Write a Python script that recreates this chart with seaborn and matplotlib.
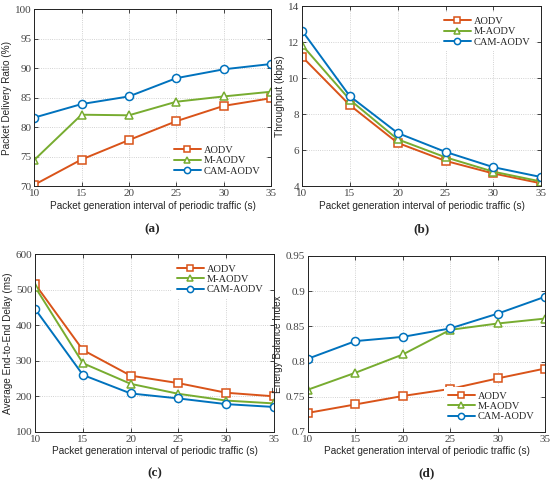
import numpy as np
import pandas as pd
import seaborn as sns
from matplotlib import pyplot as plt

# Data
intervals = [10, 15, 20, 25, 30, 35]
protocols = ["AODV", "M-AODV", "CAM-AODV"]

pdr_aodv = [70.2, 74.5, 77.8, 81.0, 83.6, 84.9]
pdr_maodv = [74.4, 82.1, 82.0, 84.3, 85.2, 86.0]
pdr_camaodv = [81.6, 83.9, 85.2, 88.3, 89.8, 90.7]

thr_aodv = [11.2, 8.5, 6.4, 5.4, 4.7, 4.15]
thr_maodv = [11.85, 8.8, 6.6, 5.6, 4.8, 4.25]
thr_camaodv = [12.65, 9.0, 6.95, 5.9, 5.05, 4.5]

delay_aodv = [515, 330, 258, 237, 210, 200]
delay_maodv = [507, 293, 235, 207, 188, 180]
delay_camaodv = [445, 260, 208, 194, 178, 170]

ebi_aodv = [0.727, 0.739, 0.751, 0.761, 0.776, 0.790]
ebi_maodv = [0.760, 0.784, 0.810, 0.845, 0.854, 0.861]
ebi_camaodv = [0.804, 0.829, 0.835, 0.847, 0.868, 0.892]

sns.set_theme(style="ticks")
plt.rcParams['font.family'] = ['Liberation Sans', 'DejaVu Sans']

palette = {"AODV": "#D95319", "M-AODV": "#77AC30", "CAM-AODV": "#0072BD"}
markers = {"AODV": "s", "M-AODV": "^", "CAM-AODV": "o"}


def make_df(a, m, c):
    rows = []
    for name, vals in zip(protocols, [a, m, c]):
        for x, v in zip(intervals, vals):
            rows.append((x, name, v))
    return pd.DataFrame(rows, columns=["interval", "protocol", "value"])


panels = [
    (make_df(pdr_aodv, pdr_maodv, pdr_camaodv), "Packet Delivery Ratio (%)", (70, 100), np.arange(70, 101, 5), "lower right", "(a)", None),
    (make_df(thr_aodv, thr_maodv, thr_camaodv), "Throughput (kbps)", (4, 14), np.arange(4, 15, 2), "upper right", "(b)", None),
    (make_df(delay_aodv, delay_maodv, delay_camaodv), "Average End-to-End Delay (ms)", (100, 600), np.arange(100, 601, 100), "upper right", "(c)", None),
    (make_df(ebi_aodv, ebi_maodv, ebi_camaodv), "Energy Balance Index", (0.7, 0.95), [0.7, 0.75, 0.8, 0.85, 0.9, 0.95], "lower right", "(d)", ["0.7", "0.75", "0.8", "0.85", "0.9", "0.95"]),
]

# [left, bottom, width, height] in figure fractions
positions = [
    [0.062, 0.614, 0.431, 0.367],
    [0.549, 0.614, 0.435, 0.373],
    [0.064, 0.104, 0.434, 0.369],
    [0.560, 0.104, 0.431, 0.365],
]
tag_y = [0.525, 0.525, 0.019, 0.019]

fig = plt.figure(figsize=(5.5, 4.82), dpi=100)

for (df, ylabel, ylim, yticks, loc, tag, ytl), pos, ty in zip(panels, positions, tag_y):
    ax = fig.add_axes(pos)
    for name in protocols:
        sub = df[df["protocol"] == name]
        sns.lineplot(data=sub, x="interval", y="value", ax=ax, color=palette[name],
                     marker=markers[name], markersize=5.8, markerfacecolor="white",
                     markeredgecolor=palette[name], markeredgewidth=1.1,
                     linewidth=1.4, label=name)
    ax.set_xlim(10, 35)
    ax.set_ylim(*ylim)
    ax.set_xticks(intervals)
    ax.set_yticks(yticks)
    if ytl is not None:
        ax.set_yticklabels(ytl)
    for lab in ax.get_xticklabels() + ax.get_yticklabels():
        lab.set_fontfamily("Liberation Serif")
        lab.set_fontsize(8)
        lab.set_color("#444444")
    ax.tick_params(direction="in", length=3, width=0.6, top=True, right=True, pad=2)
    ax.grid(True, linestyle=":", linewidth=0.6, color="#c4c4c4")
    for s in ax.spines.values():
        s.set_linewidth(0.7)
        s.set_color("#222222")
    ax.set_xlabel("Packet generation interval of periodic traffic (s)", fontsize=7.2, labelpad=2)
    ax.set_ylabel(ylabel, fontsize=7.2, labelpad=2)
    leg = ax.legend(loc=loc, prop={"family": "Liberation Serif", "size": 7.5},
                    frameon=True, fancybox=False, edgecolor="none", framealpha=1,
                    borderpad=0.4, handlelength=2.6, labelspacing=0.1,
                    borderaxespad=0.6, handletextpad=0.3)
    for h in leg.legend_handles:
        h.set_markersize(4.5)
    x_center = pos[0] + pos[2] / 2
    fig.text(x_center, ty, tag, ha="center", va="center",
             fontsize=9.5, fontweight="bold", family="Liberation Serif")

fig.savefig("out.png", dpi=100)
